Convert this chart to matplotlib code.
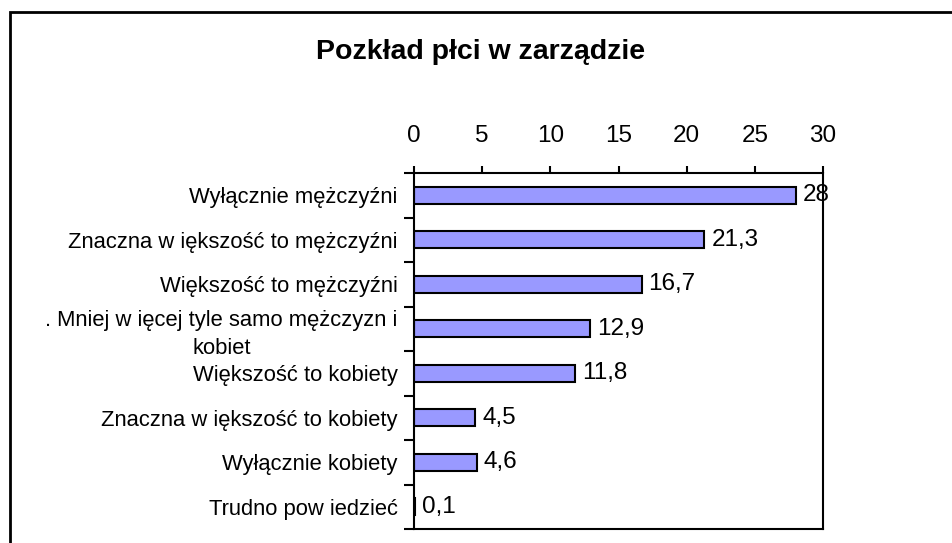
import matplotlib.pyplot as plt
from matplotlib.patches import Rectangle

plt.rcParams['font.family'] = ['Liberation Sans', 'DejaVu Sans']

categories = [
    "Wyłącznie mężczyźni",
    "Znaczna w iększość to mężczyźni",
    "Większość to mężczyźni",
    ". Mniej w ięcej tyle samo mężczyzn i\nkobiet",
    "Większość to kobiety",
    "Znaczna w iększość to kobiety",
    "Wyłącznie kobiety",
    "Trudno pow iedzieć",
]
values = [28, 21.3, 16.7, 12.9, 11.8, 4.5, 4.6, 0.1]
value_labels = ["28", "21,3", "16,7", "12,9", "11,8", "4,5", "4,6", "0,1"]
x_ticks = [0, 5, 10, 15, 20, 25, 30]

fig = plt.figure(figsize=(9.52, 5.43), dpi=100)
ax = fig.add_axes([414 / 952, 1 - 529 / 543, 409 / 952, 356 / 543])

pos = list(range(len(categories)))
ax.barh(pos, values, height=0.38, color='#9999FF', edgecolor='black', linewidth=1.5)

for y, v, lab in zip(pos, values, value_labels):
    ax.annotate(lab, (v, y), xytext=(5, 0), textcoords='offset points',
                va='center', ha='left', fontsize=17.5)

ax.set_xlim(0, 30)
ax.set_ylim(len(categories) - 0.5, -0.5)
ax.xaxis.tick_top()
ax.set_xticks(x_ticks)
ax.tick_params(axis='x', length=5, width=1.5, pad=13.5, labelsize=17.5)

ax.set_yticks(pos)
ax.set_yticklabels(categories, fontsize=15.8, multialignment='center', linespacing=1.45)
ax.tick_params(axis='y', which='major', length=0, pad=11.7)
ax.set_yticks([p - 0.5 for p in pos] + [len(pos) - 0.5], minor=True)
ax.tick_params(axis='y', which='minor', length=7, width=1.5)

for s in ax.spines.values():
    s.set_linewidth(1.5)

fig.text(481 / 952, 1 - 52 / 543, "Pozkład płci w zarządzie", ha='center', va='center',
         fontsize=20.5, fontweight='bold')

fig.patches.append(Rectangle((10 / 952, -0.2), 1.2, 1.2 - 12 / 543, transform=fig.transFigure,
                             fill=False, edgecolor='black', linewidth=2, clip_on=False))

fig.savefig('out.png', dpi=100)
